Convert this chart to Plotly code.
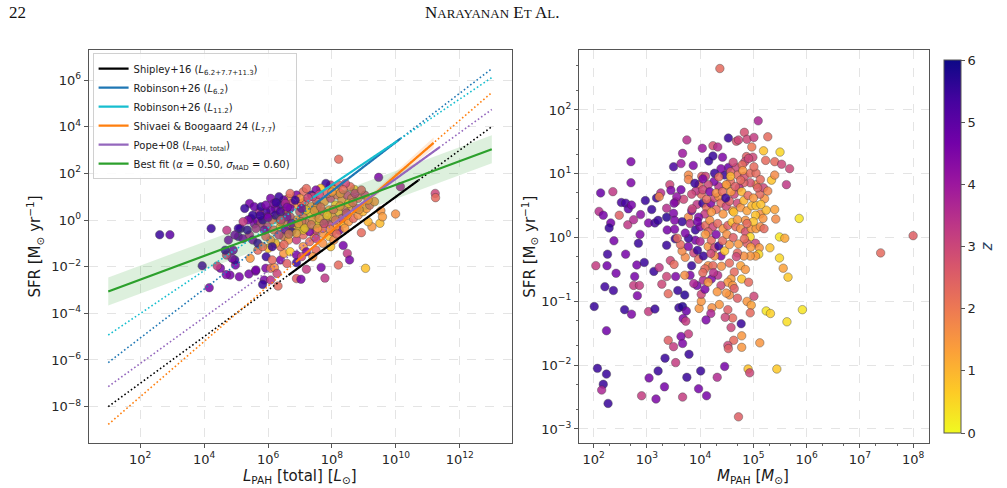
import numpy as np
import plotly.graph_objects as go

# ---------------- data (log10 values) ----------------
left_log_lpah = [
    2.61,2.93,4.22,3.94,4.16,4.71,5.14,8.21,9.46,10.14,
    11.23,11.24,9.99,9.05,9.53,9.50,9.58,9.25,9.13,8.92,
    8.23,8.35,7.96,8.48,8.55,8.20,7.66,7.78,7.20,6.89,
    7.03,6.31,5.88,5.83,5.61,5.40,5.10,4.81,4.69,4.51,
    4.41,4.98,4.96,4.87,4.70,4.91,4.66,4.76,5.07,5.22,
    5.42,5.35,5.47,5.57,5.68,5.78,5.44,5.68,5.62,5.93,
    6.08,6.20,6.28,6.08,5.94,6.01,6.13,6.39,6.49,6.39,
    6.23,6.08,5.93,6.69,6.89,7.10,7.30,7.45,7.50,7.71,
    7.91,8.01,8.11,8.37,8.52,8.67,8.82,8.97,9.08,9.18,
    9.33,9.03,8.82,8.70,8.57,8.42,8.21,7.96,7.81,7.65,
    7.50,7.35,7.10,6.89,6.64,6.49,6.39,6.23,6.08,5.93,
    5.73,5.52,5.37,5.22,5.07,4.96,5.52,5.68,5.83,6.74,
    6.94,7.15,7.35,7.55,7.76,7.96,8.16,8.31,8.47,8.62,
    8.11,7.91,7.71,7.50,7.30,7.10,6.89,6.69,6.49,6.28,
    6.13,5.98,6.18,6.39,6.59,6.79,6.99,7.20,7.40,7.60,
    7.81,8.01,8.21,8.42,8.62,8.31,6.49,6.64,6.89,7.10,
    7.30,6.74,6.54,6.34,6.13,5.88,5.83,5.62,7.71,7.50,
    7.40,7.20,6.59,6.89,7.05,5.42,5.27,5.57,6.08,6.34,
    6.54,6.18,7.05,7.50,
    6.69,7.00,7.40,7.86,8.06,8.26,8.72,8.92,9.13,8.52,
    8.77,7.50,7.20,6.99,6.59,6.39,6.74,7.05,7.60,7.91,
    8.11,8.47,7.71,7.10,6.89,7.50,8.06,6.23,5.98,6.59,
    5.78,5.93,6.39,6.69,
    7.25,7.45,7.65,7.85,8.05,8.25,8.45,8.65,8.85,7.05,
    6.85,6.60,6.40,6.65,6.95,7.15,7.35,7.55,7.75,7.95,
    8.15,8.40,7.20,7.60,8.00,8.35,6.25,6.00,5.75,6.50,
]
left_log_sfr = [
    -0.63,-0.63,-0.36,-1.96,-2.90,-0.44,-0.36,2.61,1.83,1.43,
    1.14,0.96,0.26,-2.07,0.40,-0.14,0.14,-0.29,-0.07,-0.54,
    -0.44,-1.09,-1.14,-1.43,-1.71,-1.93,-2.03,-2.49,-2.11,-2.51,
    -2.54,-2.83,-2.57,-2.76,-2.19,-2.31,-2.43,-2.36,-2.34,-2.07,
    -1.97,-1.93,-1.71,-1.64,-1.50,-1.29,-1.29,-0.86,-0.71,-0.80,
    -0.64,-0.43,0.07,-0.17,-0.04,-0.14,-1.64,-1.29,-2.14,-2.07,
    -2.07,-2.04,-2.29,-2.57,-1.57,-1.21,-1.71,-1.71,-1.43,-1.14,
    -1.00,-0.86,-0.71,-1.36,-1.50,-1.14,-0.93,-0.71,-0.43,-0.57,
    -0.71,-0.50,-0.29,-0.14,-0.07,0.07,0.21,0.36,0.50,0.64,
    0.79,1.07,0.93,1.31,1.43,1.57,1.50,1.50,1.57,1.36,
    1.29,1.07,1.21,1.07,0.93,0.86,0.64,0.50,0.43,0.36,
    0.36,0.21,0.00,-0.07,-0.36,-0.64,-0.86,-1.00,-1.14,0.71,
    0.64,0.79,0.57,0.64,0.79,0.93,1.07,0.86,1.07,0.93,
    0.64,0.43,0.36,0.21,0.29,0.14,0.00,0.14,0.36,0.14,
    0.00,-0.29,-0.43,-0.29,-0.21,-0.36,-0.29,-0.14,0.00,-0.14,
    0.00,0.14,0.36,0.50,0.57,0.07,-0.71,-0.86,-0.86,-0.64,
    -0.50,-0.50,-0.43,-0.64,-1.14,-0.43,0.00,-0.36,-1.00,-1.29,
    -1.57,-1.36,-1.86,-1.83,-1.57,0.71,0.50,0.57,0.93,1.00,
    0.71,0.71,0.71,0.86,
    1.14,0.93,1.00,1.14,1.29,1.14,1.14,1.29,0.86,0.71,
    0.50,0.50,0.43,0.36,0.36,-0.07,-0.14,-0.07,0.07,-0.21,
    0.00,0.21,-0.36,-0.43,-0.57,-0.79,-0.86,0.21,0.14,0.14,
    0.57,0.64,0.36,0.50,
    0.95,0.40,0.55,0.20,0.45,0.60,0.30,0.75,0.45,0.50,
    0.85,0.55,0.00,-0.60,-0.15,-0.35,-0.20,-0.35,-0.15,-0.40,
    -0.60,-0.35,1.35,1.10,1.20,1.30,0.75,0.10,0.20,-1.05,
]
left_z = [
    5.5,5.0,5.5,5.3,4.6,3.3,5.3,2.3,4.5,3.7,
    3.0,2.3,1.6,0.8,1.5,0.9,1.4,1.5,1.0,2.3,
    4.5,4.6,0.8,3.2,4.6,2.3,4.6,3.3,3.2,2.5,
    4.6,2.3,4.6,5.5,4.6,4.6,4.6,4.6,4.5,4.6,
    3.2,4.6,5.5,4.5,3.2,4.8,5.5,4.6,5.3,4.6,
    3.6,5.5,5.5,4.5,4.6,3.2,1.5,2.3,4.6,4.5,
    2.3,1.6,3.0,3.5,5.5,0.8,2.3,4.6,1.5,2.3,
    1.0,1.6,2.5,0.7,4.6,1.6,2.3,1.4,3.0,1.5,
    0.9,2.3,1.5,0.8,1.5,2.3,1.6,1.0,1.4,2.3,
    1.6,3.0,2.3,0.8,2.3,3.0,2.5,3.0,5.5,0.8,
    4.5,5.5,2.3,4.5,1.6,4.6,5.5,4.6,4.8,5.3,
    3.6,5.5,4.6,3.2,5.5,4.6,4.6,5.5,2.3,3.0,
    1.5,2.3,1.6,2.5,1.5,3.0,2.3,1.6,3.0,2.3,
    0.8,1.5,2.3,3.0,0.9,2.3,1.5,3.0,1.6,0.8,
    2.3,3.2,2.3,1.0,2.3,1.5,0.8,2.3,1.5,0.7,
    2.3,1.5,1.0,2.3,1.5,3.0,2.3,1.5,3.2,2.3,
    4.5,5.5,4.6,3.2,5.5,4.6,5.5,3.6,1.6,2.3,
    1.5,4.6,2.5,5.5,3.0,4.6,5.5,4.8,4.6,5.5,
    3.6,4.5,2.3,2.5,
    2.3,1.5,3.0,2.3,0.9,1.6,3.2,2.5,1.5,0.8,
    2.3,1.6,0.8,3.0,2.3,1.5,4.5,2.3,1.5,3.0,
    2.3,0.9,2.3,0.8,1.5,3.2,1.6,5.5,4.6,4.5,
    5.5,4.6,5.3,4.6,
    3.0,1.5,2.3,0.8,2.3,1.5,3.0,2.3,1.6,4.6,
    5.5,4.5,3.2,2.3,1.5,0.9,2.3,1.5,3.0,1.6,
    2.3,1.5,2.3,3.0,1.5,2.3,5.5,4.6,5.5,2.3,
]

right_log_mpah = [
    4.37,5.09,4.53,3.75,4.68,4.83,4.88,5.01,5.27,5.19,
    5.50,4.97,4.72,4.04,4.24,4.33,3.67,2.70,3.50,3.64,
    3.87,4.16,4.24,4.42,4.53,4.68,4.87,4.99,5.23,5.40,
    5.53,5.68,5.62,5.34,5.40,2.70,2.13,2.36,2.52,2.60,
    2.65,2.71,2.97,3.18,3.26,3.23,3.43,3.45,3.64,3.78,
    3.78,3.98,4.03,4.10,2.10,2.18,2.48,2.32,2.29,2.64,
    2.75,2.88,3.09,3.03,3.15,3.21,3.37,3.37,3.50,3.54,
    3.69,3.56,3.51,2.38,2.87,2.84,2.60,2.26,2.25,2.42,
    2.04,2.81,2.95,2.77,3.13,3.23,2.21,2.37,2.75,2.86,
    2.82,3.38,3.52,3.37,3.53,3.44,3.51,3.28,3.37,3.54,
    3.40,3.58,3.71,2.01,2.58,2.71,3.03,3.15,2.24,3.60,
    3.67,3.74,3.68,3.73,3.78,3.64,3.40,3.50,3.67,3.79,
    3.54,3.34,2.07,2.24,2.18,2.15,2.27,3.04,3.21,3.33,
    2.90,3.17,3.67,3.75,3.97,4.12,4.01,4.32,4.46,4.72,
    3.78,3.84,3.94,4.05,4.12,4.20,4.27,4.35,4.39,4.49,
    4.55,4.61,4.63,4.70,4.76,4.82,4.88,4.97,5.05,5.13,
    5.24,5.40,5.42,5.86,5.21,5.12,5.19,5.05,4.94,4.82,
    4.73,4.64,4.50,4.57,4.70,4.83,4.94,5.05,4.35,4.26,
    4.15,4.46,4.57,4.39,4.27,4.02,3.92,3.84,3.81,3.91,
    4.00,4.10,4.18,4.24,4.33,4.43,4.52,4.60,4.67,4.76,
    4.85,4.96,5.05,5.13,5.20,4.94,4.88,5.04,5.11,5.31,
    5.49,5.59,5.49,5.56,5.65,5.10,5.04,4.94,4.82,4.70,
    4.76,4.78,4.64,4.58,4.52,4.61,4.64,4.55,4.70,4.91,
    5.01,4.88,4.96,4.94,4.77,4.78,4.78,4.63,4.52,4.53,
    4.58,4.61,4.47,4.52,4.36,4.22,4.20,4.11,3.98,4.02,
    4.02,4.09,3.94,3.88,3.81,3.71,3.84,3.72,3.66,3.63,
    3.57,3.78,3.88,3.97,4.06,4.15,4.21,4.27,4.35,4.39,
    4.46,4.55,4.27,4.15,4.09,4.24,4.33,4.39,4.32,4.49,
    4.21,4.06,4.90,4.93,5.12,5.44,5.24,5.32,5.63,5.92,
    7.39,8.00,4.84,4.91,5.01,4.79,4.57,4.49,4.76,5.13,
    5.27,5.14,5.04,4.85,4.43,4.30,4.09,3.97,4.15,4.21,
    3.91,4.00,3.78,3.72,3.66,3.52,
    4.05,4.12,4.18,4.30,4.42,4.48,4.58,4.66,4.78,4.90,
    5.00,5.08,4.10,4.20,4.30,4.42,4.50,4.62,4.72,4.83,
    4.95,5.00,4.05,4.15,4.25,4.40,4.55,4.68,4.85,3.95,
    3.85,3.95,4.05,4.35,4.62,4.80,3.90,4.70,4.88,5.18,
]
right_log_sfr = [
    2.65,1.83,1.56,1.53,1.51,1.65,1.54,1.57,1.58,1.36,
    1.34,1.42,1.53,1.40,1.44,1.42,1.32,1.19,1.11,1.16,
    1.13,1.20,1.28,1.26,1.10,1.10,1.27,1.26,1.21,1.19,
    1.15,1.08,0.83,0.90,0.98,0.86,0.70,0.72,0.55,0.54,
    0.45,0.51,0.58,0.62,0.70,0.64,0.83,0.74,0.75,0.98,
    0.91,0.83,0.96,0.96,0.41,0.35,0.35,0.23,0.15,0.20,
    0.28,0.36,0.44,0.23,0.23,0.27,0.32,0.46,0.38,0.56,
    0.60,0.64,0.54,-0.05,0.05,-0.09,-0.26,-0.26,-0.44,-0.56,
    -0.44,-0.43,-0.39,-0.61,-0.53,-0.47,-0.77,-0.83,-0.75,-0.75,
    -0.91,0.12,0.13,-0.12,-0.02,-0.36,-0.42,-0.73,-0.61,-0.61,
    -0.88,-0.83,-0.90,-1.08,-1.13,-1.20,-1.16,-1.12,-1.46,-1.10,
    -1.08,-1.15,-1.27,-1.31,-1.51,-1.55,-1.61,-1.71,-1.66,-1.83,
    -1.96,-1.89,-2.05,-2.14,-2.30,-2.39,-2.60,-2.20,-2.09,-2.34,
    -2.48,-2.53,-2.50,-2.19,-2.37,-2.48,-2.09,-2.19,-2.02,-2.81,
    0.32,0.42,0.52,0.54,0.47,0.54,0.62,0.64,0.54,0.49,
    0.57,0.42,0.40,0.54,0.47,0.58,0.42,0.50,0.50,0.37,
    0.43,0.44,0.29,0.30,0.61,0.68,0.78,0.83,0.86,0.86,
    0.78,0.68,0.82,0.88,0.98,0.96,1.01,1.01,0.80,0.88,
    0.83,0.98,1.03,1.08,1.01,0.68,0.73,0.68,0.22,0.12,
    0.17,0.19,0.27,0.17,0.22,0.14,0.19,0.24,0.17,0.14,
    0.09,0.14,0.14,0.17,0.14,0.01,-0.09,-0.09,-0.16,-0.16,
    0.01,-0.01,-0.32,-0.48,-0.62,-0.26,-0.29,-0.29,-0.29,-0.24,
    -0.44,-0.65,-0.54,-0.65,-0.70,-0.75,-0.80,-0.90,-0.95,-0.70,
    -0.92,-1.00,-1.06,-1.18,-1.35,-1.54,-1.72,-1.61,-1.69,-1.74,
    -1.41,-1.26,-1.25,-1.13,-1.05,-1.10,-1.19,-1.29,-1.11,-1.00,
    -0.89,-0.81,-0.75,-0.72,-0.59,-0.59,-0.44,-0.31,-0.21,-0.11,
    -0.01,-0.14,-0.24,-0.34,-0.29,-0.14,-0.04,-0.16,-0.13,-0.29,
    -0.21,-0.11,-0.29,-0.44,-0.49,-0.44,-0.59,-0.75,-0.85,-0.87,
    -0.65,-0.67,-2.06,-2.12,-1.65,-2.06,-1.15,-1.19,-1.32,-1.13,
    -0.24,0.03,1.19,1.24,1.11,1.14,0.96,0.83,0.90,0.91,
    0.73,0.52,0.35,0.27,0.37,0.44,0.37,0.32,0.09,0.40,
    -0.04,-0.06,-0.01,0.07,0.25,0.27,
    0.75,0.60,0.72,0.70,0.72,0.62,0.72,0.80,0.72,0.66,
    0.62,0.78,0.05,-0.25,0.05,-0.05,0.05,0.00,-0.10,-0.02,
    -0.15,0.25,-0.55,-0.70,-0.55,-0.45,-0.40,-0.30,-0.50,0.25,
    0.45,-0.20,0.92,0.95,1.18,1.05,0.85,0.28,0.22,0.30,
]
right_z = [
    2.3,3.7,5.5,3.5,2.8,2.8,3.0,3.2,2.3,0.8,
    0.5,2.0,3.0,4.0,2.8,3.5,4.0,4.5,5.3,4.0,
    4.5,5.5,5.5,4.5,4.8,3.0,2.5,3.0,2.3,2.3,
    3.0,3.0,3.3,0.8,1.7,4.5,4.8,3.3,5.3,5.3,
    5.0,4.6,5.5,5.5,3.5,1.8,3.0,4.5,4.6,1.7,
    1.8,2.3,2.5,3.0,3.5,4.6,2.5,4.7,5.5,3.3,
    3.6,4.3,5.5,4.5,5.3,5.5,5.7,3.5,4.5,3.3,
    3.0,4.2,4.5,4.6,4.5,5.5,4.6,5.4,4.7,4.6,
    3.2,4.6,5.5,4.6,5.5,3.3,5.4,5.4,3.2,3.2,
    4.5,4.6,4.5,5.5,5.5,3.0,2.3,3.0,3.0,4.5,
    2.3,5.5,5.7,5.5,5.5,4.5,3.2,5.5,4.7,5.5,
    5.7,4.8,4.5,3.2,3.2,4.5,2.5,3.2,4.5,5.5,
    3.2,5.5,5.5,5.5,5.5,3.7,5.5,4.6,5.5,4.6,
    3.2,4.5,3.2,5.5,4.6,4.6,5.5,3.6,4.6,2.5,
    1.7,4.5,3.3,5.5,2.3,4.5,3.0,1.6,2.3,3.0,
    2.5,1.5,0.8,3.0,1.5,1.0,1.3,1.0,0.8,1.6,
    0.9,1.3,1.7,0.3,1.5,2.3,3.0,1.6,2.8,2.5,
    3.5,3.0,1.0,2.3,2.3,2.8,2.3,2.3,3.5,4.5,
    3.0,5.5,2.5,4.5,5.5,2.3,3.3,3.0,3.5,5.5,
    4.5,2.3,1.6,3.0,2.3,1.5,2.5,0.8,2.3,1.6,
    2.8,1.5,1.4,1.6,2.3,0.5,2.5,3.0,1.5,0.8,
    0.3,1.2,0.5,1.3,0.7,0.5,1.5,1.5,1.6,2.3,
    1.3,0.8,2.3,1.4,1.5,1.5,2.5,1.6,2.5,2.3,
    3.0,1.5,1.3,2.3,5.5,1.5,1.5,2.3,3.0,2.5,
    3.0,2.3,3.0,2.5,1.5,1.6,3.7,4.5,1.5,1.5,
    3.0,4.5,4.6,3.7,4.5,1.6,5.5,1.7,1.7,2.3,
    2.3,4.5,3.0,2.3,5.5,1.5,2.3,3.0,5.5,4.5,
    0.8,1.5,1.6,1.6,2.3,2.3,3.5,3.0,1.5,1.5,
    4.5,3.6,0.8,3.0,1.5,0.7,0.3,0.6,0.4,0.3,
    2.3,2.5,3.0,3.0,2.3,2.3,1.0,1.5,2.3,2.3,
    1.8,0.8,0.8,1.5,1.5,2.3,3.2,4.5,2.5,1.5,
    4.6,3.7,5.5,4.5,5.5,4.5,
    3.0,2.3,4.5,1.6,2.3,5.5,1.5,2.5,1.0,2.3,
    1.5,2.5,1.5,3.0,4.5,2.3,1.6,2.5,1.5,2.3,
    1.4,0.8,2.3,1.5,3.5,1.6,2.3,3.0,1.5,4.6,
    3.0,5.5,4.5,2.3,3.0,1.5,5.5,1.5,2.3,1.5,
]

# calibration relations: log SFR = slope * log L + intercept
relation_names = [
    "Shipley+16 (<i>L</i><sub>6.2+7.7+11.3</sub>)",
    "Robinson+26 (<i>L</i><sub>6.2</sub>)",
    "Robinson+26 (<i>L</i><sub>11.2</sub>)",
    "Shivaei &amp; Boogaard 24 (<i>L</i><sub>7.7</sub>)",
    "Pope+08 (<i>L</i><sub>PAH, total</sub>)",
    "Best fit (<i>α</i> = 0.50, <i>σ</i><sub>MAD</sub> = 0.60)",
]
relation_slopes = [1.00, 1.05, 0.92, 1.186, 0.99, 0.508]
relation_intercepts = [-9.00, -7.16, -5.85, -9.95, -8.13, -3.57]
relation_solid_lo = [6.64, 7.50, 7.40, 6.89, 8.00, 1.00]
relation_solid_hi = [10.70, 10.14, 10.05, 11.18, 11.36, 13.00]
relation_colors = ["#000000", "#1f77b4", "#17becf", "#ff7f0e", "#9467bd", "#2ca02c"]
relation_extent = [1.0, 13.0]
bestfit_sigma = 0.60
shivaei_band_logl = [7.0, 11.18]
shivaei_band_half = [0.0, 0.23]

left_xtick_exp = [2, 4, 6, 8, 10, 12]
left_ytick_exp = [-8, -6, -4, -2, 0, 2, 4, 6]
right_xtick_exp = [2, 3, 4, 5, 6, 7, 8]
right_ytick_exp = [-3, -2, -1, 0, 1, 2]
z_ticks = [0, 1, 2, 3, 4, 5, 6]


def pw(e):
    return "10<sup>" + ("−" + str(-e) if e < 0 else str(e)) + "</sup>"


fig = go.Figure()

marker_line = dict(width=0.6, color="rgba(50,50,50,0.75)")
fig.add_trace(go.Scatter(
    x=10 ** np.array(left_log_lpah), y=10 ** np.array(left_log_sfr), mode="markers",
    marker=dict(size=8.5, color=left_z, coloraxis="coloraxis", opacity=0.85, line=marker_line),
    showlegend=False, xaxis="x", yaxis="y", hoverinfo="skip"))
fig.add_trace(go.Scatter(
    x=10 ** np.array(right_log_mpah), y=10 ** np.array(right_log_sfr), mode="markers",
    marker=dict(size=8.5, color=right_z, coloraxis="coloraxis", opacity=0.85, line=marker_line),
    showlegend=False, xaxis="x2", yaxis="y2", hoverinfo="skip"))

# green best-fit band
bl = np.array(relation_extent)
bf = relation_slopes[5] * bl + relation_intercepts[5]
fig.add_trace(go.Scatter(x=10 ** bl, y=10 ** (bf + bestfit_sigma), mode="lines",
                         line=dict(width=0, color="rgba(0,0,0,0)"), showlegend=False, hoverinfo="skip"))
fig.add_trace(go.Scatter(x=10 ** bl, y=10 ** (bf - bestfit_sigma), mode="lines", fill="tonexty",
                         fillcolor="rgba(44,160,44,0.16)", line=dict(width=0, color="rgba(0,0,0,0)"),
                         showlegend=False, hoverinfo="skip"))
# orange band
ol = np.array(shivaei_band_logl)
of = relation_slopes[3] * ol + relation_intercepts[3]
oh = np.array(shivaei_band_half)
fig.add_trace(go.Scatter(x=10 ** ol, y=10 ** (of + oh), mode="lines",
                         line=dict(width=0, color="rgba(0,0,0,0)"), showlegend=False, hoverinfo="skip"))
fig.add_trace(go.Scatter(x=10 ** ol, y=10 ** (of - oh), mode="lines", fill="tonexty",
                         fillcolor="rgba(255,127,14,0.16)", line=dict(width=0, color="rgba(0,0,0,0)"),
                         showlegend=False, hoverinfo="skip"))

# dotted extrapolations
for i in range(5):
    lx = np.array(relation_extent)
    ly = relation_slopes[i] * lx + relation_intercepts[i]
    fig.add_trace(go.Scatter(x=10 ** lx, y=10 ** ly, mode="lines",
                             line=dict(color=relation_colors[i], width=1.6, dash="1.6px,2.4px"),
                             showlegend=False, hoverinfo="skip"))
# solid (calibrated) ranges
for i in range(6):
    lx = np.array([relation_solid_lo[i], relation_solid_hi[i]])
    ly = relation_slopes[i] * lx + relation_intercepts[i]
    fig.add_trace(go.Scatter(x=10 ** lx, y=10 ** ly, mode="lines", name=relation_names[i],
                             line=dict(color=relation_colors[i], width=2.2),
                             showlegend=True, legendrank=i + 1, hoverinfo="skip"))

axis_font = dict(family="DejaVu Sans", size=13, color="#262626")
title_font = dict(family="DejaVu Sans", size=15, color="#1a1a1a")
common = dict(type="log", showline=True, linecolor="#555", linewidth=1, mirror=True,
              ticks="outside", ticklen=4, tickcolor="#555", showgrid=True,
              gridcolor="#e4e4e4", griddash="dash", gridwidth=0.8, zeroline=False,
              tickfont=axis_font, title_font=title_font)
minor = dict(ticks="outside", ticklen=2, tickcolor="#666", showgrid=False)

sfr_title = "SFR [M<sub>⊙</sub> yr<sup>−1</sup>]"
lpah_title = "<i>L</i><sub>PAH</sub> [total] [<i>L</i><sub>⊙</sub>]"
mpah_title = "<i>M</i><sub>PAH</sub> [<i>M</i><sub>⊙</sub>]"

fig.update_layout(
    width=1007, height=488, margin=dict(l=0, r=0, t=0, b=0),
    paper_bgcolor="white", plot_bgcolor="white",
    xaxis=dict(common, domain=[0.0901, 0.5194], range=[0.39, 13.62], anchor="y",
               tickvals=[10 ** e for e in left_xtick_exp], ticktext=[pw(e) for e in left_xtick_exp]),
    yaxis=dict(common, domain=[0.0922, 0.8975], range=[-9.56, 7.29], anchor="x",
               tickvals=[10 ** e for e in left_ytick_exp], ticktext=[pw(e) for e in left_ytick_exp],
               title=dict(text=sfr_title, standoff=6)),
    xaxis2=dict(common, domain=[0.5876, 0.9427], range=[1.72, 8.29], anchor="y2",
                tickvals=[10 ** e for e in right_xtick_exp], ticktext=[pw(e) for e in right_xtick_exp],
                minor=minor),
    yaxis2=dict(common, domain=[0.0922, 0.8975], range=[-3.22, 2.94], anchor="x2",
                tickvals=[10 ** e for e in right_ytick_exp], ticktext=[pw(e) for e in right_ytick_exp],
                minor=minor),
    coloraxis=dict(cmin=0, cmax=6, colorscale="Plasma", reversescale=True,
                   colorbar=dict(x=0.9484, xanchor="left", y=0.0922, yanchor="bottom",
                                 len=0.8053, lenmode="fraction", thickness=17,
                                 outlinewidth=1, outlinecolor="#555",
                                 ticks="outside", ticklen=4, tickcolor="#555",
                                 tickvals=z_ticks, tickfont=axis_font,
                                 title=dict(text="<i>z</i>", side="right",
                                            font=dict(family="DejaVu Sans", size=15)))),
    legend=dict(x=0.094, y=0.891, xanchor="left", yanchor="top", traceorder="normal",
                bgcolor="rgba(255,255,255,0.85)", bordercolor="#d0d0d0", borderwidth=1,
                font=dict(family="DejaVu Sans", size=10, color="#1a1a1a"),
                itemwidth=30, tracegroupgap=0),
    annotations=[
        dict(text="22", x=7 / 1007, y=1 - 12 / 488, xref="paper", yref="paper", showarrow=False,
             xanchor="left", yanchor="middle",
             font=dict(family="Liberation Serif", size=17, color="#111")),
        dict(text="N<span style='font-size:13px'>ARAYANAN</span> E<span style='font-size:13px'>T</span> "
                  "A<span style='font-size:13px'>L</span>.",
             x=503 / 1007, y=1 - 12 / 488, xref="paper", yref="paper", showarrow=False,
             xanchor="center", yanchor="middle",
             font=dict(family="Liberation Serif", size=17, color="#111")),
        # axis titles placed explicitly
        dict(text=sfr_title, x=541 / 1007, y=(0.0922 + 0.8975) / 2, xref="paper", yref="paper",
             showarrow=False, textangle=-90, xanchor="center", yanchor="middle",
             font=title_font),
        dict(text=lpah_title, x=307 / 1007, y=1 - 476 / 488, xref="paper", yref="paper",
             showarrow=False, xanchor="center", yanchor="middle", font=title_font),
        dict(text=mpah_title, x=770 / 1007, y=1 - 476 / 488, xref="paper", yref="paper",
             showarrow=False, xanchor="center", yanchor="middle", font=title_font),
    ],
)

fig.write_html("out.html")
